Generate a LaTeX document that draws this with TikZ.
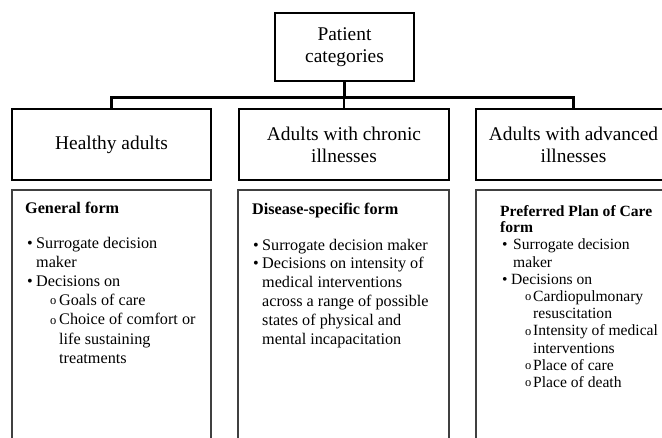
\documentclass[tikz,border=0pt]{standalone}
\usepackage{fontspec}
\setmainfont{Liberation Serif}
\newcommand\bitem[2]{\par\noindent\hangindent=#1\hangafter=1\makebox[#1][l]{\textbullet}#2}
\newcommand\citem[3]{\par\noindent\hangindent=\dimexpr#1+#2\relax\hangafter=1\hspace*{#1}\makebox[#2][l]{\raisebox{0.8pt}{\fontsize{12.5}{12.5}\selectfont o}}#3}
\newcommand\lpar[2]{\parbox[t]{#1}{#2}}
\tikzset{
  hdr/.style={draw=black, line width=2.7pt, line join=miter, inner sep=0pt, align=center,
    font=\fontsize{19.4}{22}\selectfont},
  conn/.style={draw=black, line width=2.6pt, line join=miter},
  lowbox/.style={draw=black!75, line width=1.1pt, inner sep=0pt},
  headtxt/.style={anchor=base west, inner sep=0pt,
    font=\fontsize{16.2}{16.9}\selectfont\bfseries},
  listtxt/.style={anchor=base west, inner sep=0pt,
    font=\fontsize{16.2}{18.5}\selectfont}
}
\begin{document}
\begin{tikzpicture}[x=1pt,y=-1pt]
\useasboundingbox (0,0) rectangle (662,437);
\clip (0,0) rectangle (662,437);
\fill[white] (0,0) rectangle (662,437);

% top node
\node[hdr, minimum width=139pt, minimum height=68pt] (top) at (344.5,47) {Patient\\categories};

% header boxes
\node[hdr, minimum width=199pt, minimum height=71pt] (h1) at (111.5,144.5) {Healthy adults};
\node[hdr, minimum width=210pt, minimum height=71pt] (h2) at (344,144.5) {Adults with chronic\\illnesses};
\node[hdr, minimum width=195pt, minimum height=71pt] (h3) at (573.5,144.5) {Adults with advanced\\illnesses};

% connectors
\draw[conn] (top.south) -- ++(0,15) coordinate (j);
\draw[conn] (h1.north) |- (j) -| (h3.north);
\draw[conn] (h2.north) -- (h2.north |- j);

% lower boxes
\node[lowbox, minimum width=199pt, minimum height=270pt] (b1) at (111.5,325) {};
\node[lowbox, minimum width=211pt, minimum height=270pt] (b2) at (343.5,325) {};
\node[lowbox, minimum width=224pt, minimum height=270pt] (b3) at (588,325) {};

% box 1 text
\node[headtxt] (t1) at (25,213) {General form};
\node[listtxt, font=\fontsize{16.2}{19.2}\selectfont] (l1) at (27,248) {\lpar{240pt}{%
\bitem{9pt}{Surrogate decision\newline maker}%
\bitem{9pt}{Decisions on}%
\citem{23pt}{9pt}{Goals of care}%
\citem{23pt}{9pt}{Choice of comfort or\newline life sustaining\newline treatments}}};

% box 2 text
\node[headtxt] (t2) at (252,214) {Disease-specific form};
\node[listtxt, font=\fontsize{16.2}{18.8}\selectfont] (l2) at (253,250) {\lpar{250pt}{%
\bitem{9pt}{Surrogate decision maker}%
\bitem{9pt}{Decisions on intensity of\newline medical interventions\newline across a range of possible\newline states of physical and\newline mental incapacitation}}};

% box 3 text
\node[headtxt, font=\fontsize{15.6}{16.9}\selectfont\bfseries] (t3) at (500,216) {\lpar{200pt}{Preferred Plan of Care\newline form}};
\node[listtxt, font=\fontsize{15.6}{17.2}\selectfont] (l3) at (502,249.8) {\lpar{200pt}{%
\bitem{11pt}{Surrogate decision\newline maker}%
\bitem{9pt}{Decisions on}%
\citem{23pt}{8pt}{Cardiopulmonary\newline resuscitation}%
\citem{23pt}{8pt}{Intensity of medical\newline interventions}%
\citem{23pt}{8pt}{Place of care}%
\citem{23pt}{8pt}{Place of death}}};
\end{tikzpicture}
\end{document}
